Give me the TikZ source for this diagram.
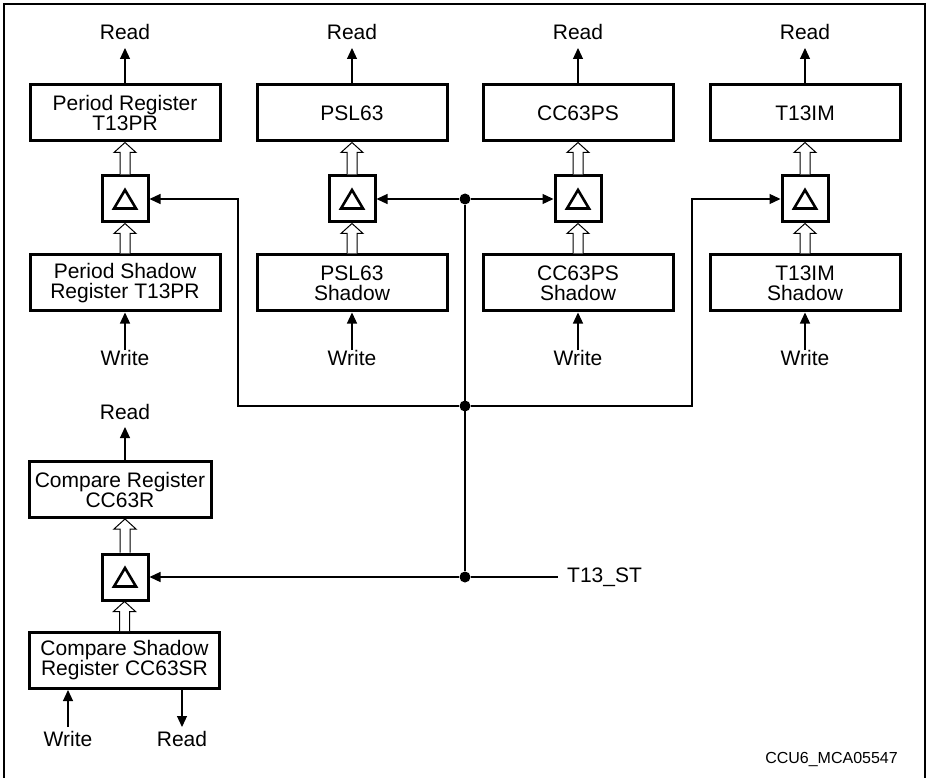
\documentclass[tikz,border=0pt]{standalone}
\usepackage{fontspec}
\setmainfont{Liberation Sans}
\usetikzlibrary{arrows.meta, calc}

\tikzset{
  reg/.style={draw, line width=3pt, minimum width=190pt, minimum height=56pt,
    align=center, inner sep=2pt},
  dlt/.style={draw, line width=3pt, minimum width=46pt, minimum height=46pt,
    inner sep=0pt, path picture={
      \draw[line width=2.6pt]
        ($(path picture bounding box.center)+(-11,9.5)$) --
        ($(path picture bounding box.center)+(11,9.5)$) --
        ($(path picture bounding box.center)+(0,-9)$) -- cycle;}},
  lbl/.style={inner sep=0pt, outer sep=0pt, text height=15pt, text depth=8pt},
  wire/.style={line width=1.2pt},
  tip/.style={wire, -{Triangle[length=11pt, width=10pt]}},
  dot/.style={circle, fill, inner sep=0pt, minimum size=11pt},
  hollow/.style={line width=1pt, fill=white},
}

% open double arrow, from the top of #1 up to the bottom of #2
\newcommand\hollowup[2]{%
  \coordinate (hb) at (#1.north);
  \coordinate (ht) at (#1.north |- #2.south);
  \draw[hollow] ($(hb)+(-5,0)$) -- ($(ht)+(-5,10)$) -- ($(ht)+(-11,10)$) -- (ht)
    -- ($(ht)+(11,10)$) -- ($(ht)+(5,10)$) -- ($(hb)+(5,0)$);
}

\begin{document}
\begin{tikzpicture}[x=1pt, y=-1pt, font=\fontsize{21}{20}\selectfont]
    \useasboundingbox (0,0) rectangle (927,778);
    \draw[line width=1.5pt] (4,778) -- (4,4) -- (925,4) -- (925,778);

    % --- registers ----------------------------------------------------------
    \node[reg] (pr)  at (125,113) {Period Register\\T13PR};
    \node[reg] (psl) at (352,113) {PSL63};
    \node[reg] (ps)  at (578,113) {CC63PS};
    \node[reg] (im)  at (805,113) {T13IM};

    \node[dlt] (dpr)  at (125,199) {};
    \node[dlt] (dpsl) at (352,199) {};
    \node[dlt] (dps)  at (578,199) {};
    \node[dlt] (dim)  at (805,199) {};

    \node[reg] (spr)  at (125,283) {Period Shadow\\Register T13PR};
    \node[reg] (spsl) at (352,283) {PSL63\\Shadow};
    \node[reg] (sps)  at (578,283) {CC63PS\\Shadow};
    \node[reg] (sim)  at (805,283) {T13IM\\Shadow};

    \hollowup{dpr}{pr}   \hollowup{dpsl}{psl}
    \hollowup{dps}{ps}   \hollowup{dim}{im}
    \hollowup{spr}{dpr}  \hollowup{spsl}{dpsl}
    \hollowup{sps}{dps}  \hollowup{sim}{dim}

    % --- read and write -----------------------------------------------------
    \node[lbl, anchor=base] (rpr)  at (125,40) {Read};
    \node[lbl, anchor=base] (rpsl) at (352,40) {Read};
    \node[lbl, anchor=base] (rps)  at (578,40) {Read};
    \node[lbl, anchor=base] (rim)  at (805,40) {Read};
    \draw[tip] (pr) -- (rpr);
    \draw[tip] (psl) -- (rpsl);
    \draw[tip] (ps) -- (rps);
    \draw[tip] (im) -- (rim);

    \node[lbl, anchor=base] (wpr)  at (125,365) {Write};
    \node[lbl, anchor=base] (wpsl) at (352,365) {Write};
    \node[lbl, anchor=base] (wps)  at (578,365) {Write};
    \node[lbl, anchor=base] (wim)  at (805,365) {Write};
    \draw[tip] (wpr) -- (spr);
    \draw[tip] (wpsl) -- (spsl);
    \draw[tip] (wps) -- (sps);
    \draw[tip] (wim) -- (sim);

    % --- compare register ---------------------------------------------------
    \node[reg, minimum width=182pt] (cr) at (120,489.5) {Compare Register\\CC63R};
    \node[dlt] (dcr) at (125,577) {};
    \node[reg] (scr) at (124.5,660.5) {Compare Shadow\\Register CC63SR};
    \hollowup{dcr}{cr}
    \hollowup{scr}{dcr}

    \node[lbl, anchor=base] (rcr) at (125,419) {Read};
    \draw[tip] (rcr |- cr.north) -- (rcr);
    \node[lbl, anchor=base, text height=19pt] (wscr) at (68,746) {Write};
    \node[lbl, anchor=base, text height=19pt] (rscr) at (182,746) {Read};
    \draw[tip] (wscr) -- (wscr |- scr.south);
    \draw[tip] (rscr |- scr.south) -- (rscr);

    % --- transfer strobe ----------------------------------------------------
    \node[dot] (j1) at (465,199) {};
    \node[dot] (j2) at (465,406) {};
    \node[dot] (j3) at (465,577) {};
    \coordinate (lbend) at (238,199);
    \coordinate (rbend) at (692,199);
    \draw[wire] (j1) -- (j3);
    \draw[tip] (j1) -- (dpsl);
    \draw[tip] (j1) -- (dps);
    \draw[tip] (j2) -| (lbend) -- (dpr);
    \draw[tip] (j2) -| (rbend) -- (dim);
    \draw[tip] (j3) -- (dcr);
    \node[anchor=base west, inner xsep=9pt, inner ysep=0pt] (st) at (558,582) {T13\_ST};
    \draw[wire] (j3) -- (j3 -| st.west);

    \node[anchor=base east, inner sep=0pt, font=\fontsize{16}{16}\selectfont] (id)
      at (898,763) {CCU6\_MCA05547};
  \end{tikzpicture}
\end{document}
